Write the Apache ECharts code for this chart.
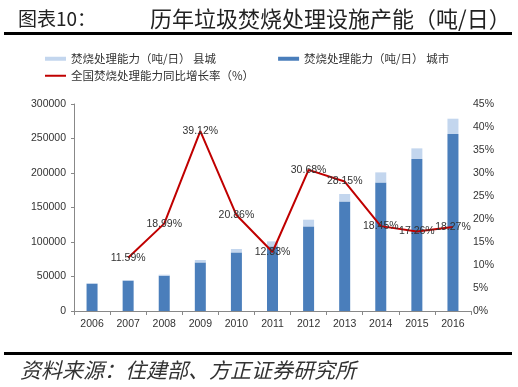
<!DOCTYPE html>
<html><head><meta charset="utf-8">
<script src="https://cdn.jsdelivr.net/npm/echarts@6/dist/echarts.min.js"></script>
<style>html,body{margin:0;padding:0;background:#fff}#c{width:518px;height:387px}</style>
</head><body><div id="c"></div>
<script>
const years = ['2006','2007','2008','2009','2010','2011','2012','2013','2014','2015','2016'];
const cityCap = [39600, 44000, 51200, 70400, 84900, 93600, 122600, 158800, 186400, 220300, 256500];
const countyCap = [300, 500, 1400, 3500, 5000, 7300, 9700, 10800, 14500, 15400, 22200];
const growth = ['-', 11.59, 18.99, 39.12, 20.86, 12.83, 30.68, 28.15, 18.45, 17.26, 18.27];
const leftTicks = [0, 300000, 50000];
const rightTicks = [0, 45, 5];

const nameCounty = '焚烧处理能力（吨/日） 县城';
const nameCity = '焚烧处理能力（吨/日） 城市';
const nameGrowth = '全国焚烧处理能力同比增长率（%）';

const CJK = '"Noto Sans CJK SC", sans-serif';
const LAT = '"Liberation Sans", Arial, sans-serif';

const chart = echarts.init(document.getElementById('c'));
chart.setOption({
  animation: false,
  backgroundColor: '#fff',
  grid: { left: 74, right: 47, top: 104, bottom: 76 },
  legend: [
    { data: [{name: nameCounty, icon: 'rect'}, {name: nameCity, icon: 'rect'}],
      left: 40, top: 48, itemWidth: 21, itemHeight: 4, itemGap: 62,
      textStyle: { fontFamily: CJK, fontSize: 11.5, color: '#333' } },
    { data: [{name: nameGrowth, icon: 'rect'}],
      left: 40, top: 65, itemWidth: 21, itemHeight: 2,
      textStyle: { fontFamily: CJK, fontSize: 11.5, color: '#333' } }
  ],
  xAxis: {
    type: 'category', data: years,
    axisLine: { lineStyle: { color: '#888', width: 1 } },
    axisTick: { show: true, length: 4, lineStyle: { color: '#888' } },
    axisLabel: { fontFamily: LAT, fontSize: 10.5, color: '#333', margin: 8 }
  },
  yAxis: [
    { type: 'value', min: leftTicks[0], max: leftTicks[1], interval: leftTicks[2],
      axisLine: { show: true, lineStyle: { color: '#888' } },
      axisTick: { show: true, length: 3, lineStyle: { color: '#888' } },
      splitLine: { show: false },
      axisLabel: { fontFamily: LAT, fontSize: 10.5, color: '#333', margin: 8, formatter: v => String(v) } },
    { type: 'value', min: rightTicks[0], max: rightTicks[1], interval: rightTicks[2],
      position: 'right',
      axisLine: { show: false }, axisTick: { show: false }, splitLine: { show: false },
      axisLabel: { fontFamily: LAT, fontSize: 10.5, color: '#333', margin: 2, formatter: '{value}%' } }
  ],
  series: [
    { name: nameCity, type: 'bar', stack: 'cap', data: cityCap, barWidth: 11,
      itemStyle: { color: '#4a7ebb' } },
    { name: nameCounty, type: 'bar', stack: 'cap', data: countyCap, barWidth: 11,
      itemStyle: { color: '#c3d6ee' } },
    { name: nameGrowth, type: 'line', yAxisIndex: 1, data: growth,
      symbol: 'circle', symbolSize: 0.1, showSymbol: true,
      lineStyle: { color: '#c00000', width: 2 }, itemStyle: { color: '#c00000' },
      label: { show: true, position: 'inside', fontFamily: LAT, fontSize: 10.5, color: '#333',
               formatter: p => p.value.toFixed(2) + '%' } }
  ],
  graphic: [
    { type: 'text', left: 18, top: 9, style: { text: '图表10：', font: '19px ' + CJK, fill: '#222' } },
    { type: 'text', left: 150, top: 8, style: { text: '历年垃圾焚烧处理设施产能（吨/日）', font: '22px ' + CJK, fill: '#222' } },
    { type: 'rect', shape: { x: 4, y: 32, width: 508, height: 3 }, style: { fill: '#000' } },
    { type: 'rect', shape: { x: 4, y: 352, width: 508, height: 3 }, style: { fill: '#000' } },
    { type: 'text', left: 20, top: 360, style: { text: '资料来源：住建部、方正证券研究所', font: 'italic 21px ' + CJK, fill: '#333' } }
  ]
});
</script></body></html>
